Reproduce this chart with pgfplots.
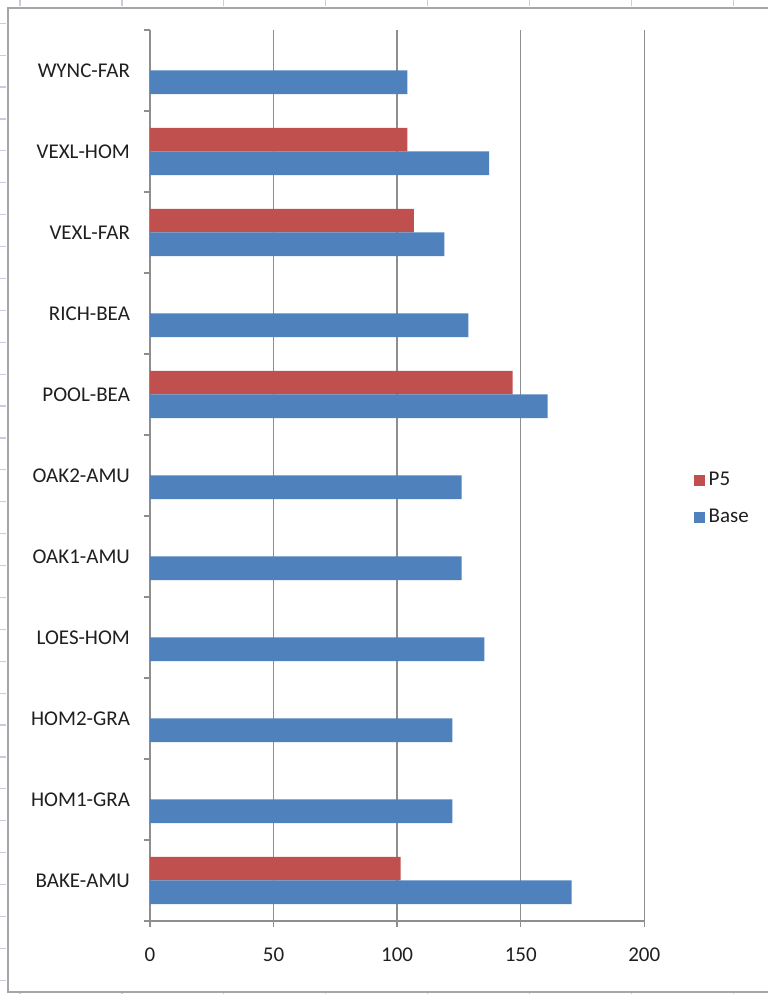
\documentclass[border=0pt]{standalone}
\usepackage{fontspec}
\setmainfont{Carlito}
\usepackage{pgfplots}
\pgfplotsset{compat=1.18}

\definecolor{baseblue}{HTML}{4F81BD}
\definecolor{pfivered}{HTML}{C0504D}
\definecolor{gridgray}{HTML}{8E8E8E}
\definecolor{framegray}{HTML}{A6A6A6}
\definecolor{rulertick}{HTML}{C5CEDF}
\definecolor{labeltext}{HTML}{1F1F1F}

\begin{document}
\begin{tikzpicture}[x=0.5pt,y=0.5pt]
% page: 768 x 994 units (1 unit = 0.5pt), y measured from the bottom
\path[use as bounding box] (0,0) rectangle (768,994);

% sheet ruler ticks around the chart frame
\foreach \yy in {23.3,55.2,87.1,119.0,150.9,182.8,214.7,246.6,278.5,310.4,342.3,374.2,406.1,438.0,469.9,501.8,533.7,565.6,597.5,629.4,661.3,693.2,725.1,757.0,788.9,820.8,852.7,884.6,916.5,948.4,980.3}
  \draw[rulertick,line width=0.6pt] (0,994-\yy) -- (6,994-\yy);
\foreach \xx in {20,121.9,223.8,325.7,427.6,529.5,631.4,733.3}{
  \draw[rulertick,line width=0.6pt] (\xx,994) -- (\xx,988);
  \draw[rulertick,line width=0.6pt] (\xx,0) -- (\xx,2);
}

% chart area frame
\draw[framegray,line width=1pt] (768,986) -- (8,986) -- (8,2.3) -- (768,2.3);

\begin{axis}[
  at={(75pt,36.5pt)}, anchor=south west,
  scale only axis,
  width=247.15pt, height=445.5pt,
  xbar, bar width=11.8pt,
  xmin=0, xmax=200,
  ymin=-0.5, ymax=10.5,
  axis x line*=bottom, axis y line*=left,
  axis line style={gridgray,line width=0.75pt},
  xtick={0,50,100,150,200},
  xmajorgrids,
  major grid style={gridgray,line width=0.75pt},
  ytick={0,...,10},
  yticklabels={BAKE-AMU,HOM1-GRA,HOM2-GRA,LOES-HOM,OAK1-AMU,OAK2-AMU,POOL-BEA,RICH-BEA,VEXL-FAR,VEXL-HOM,WYNC-FAR},
  minor ytick={-0.5,0.5,...,10.5},
  tick align=outside,
  major tick length=3pt,
  minor tick length=3pt,
  major y tick style={draw=none},
  tick style={gridgray,line width=0.75pt},
  /pgf/number format/assume math mode=true,
  ticklabel style={font=\fontsize{10.5}{12}\selectfont, text=labeltext},
  xticklabel style={yshift=-7pt},
  yticklabel style={xshift=-3.5pt},
  legend style={at={(1,0.4736)}, anchor=west, xshift=21.5pt,
    draw=none, fill=none,
    font=\fontsize{10.5}{12}\selectfont, text=labeltext,
    row sep=6.3pt},
  legend cell align=left,
  legend image code/.code={\fill[#1] (0pt,-2.8pt) rectangle (5.5pt,2.7pt);},
]
% P5 sits above each category centre, Base below it
\addplot[fill=pfivered, draw=none, bar shift=5.9pt] coordinates {
  (101.4,0) (146.7,6) (106.8,8) (104.1,9)
};
\addlegendentry{P5}
\addplot[fill=baseblue, draw=none, bar shift=-5.9pt] coordinates {
  (170.6,0) (122.3,1) (122.3,2) (135.3,3) (126.1,4) (126.1,5)
  (160.9,6) (128.8,7) (119.1,8) (137.2,9) (104.1,10)
};
\addlegendentry{Base}
\end{axis}
\end{tikzpicture}
\end{document}
